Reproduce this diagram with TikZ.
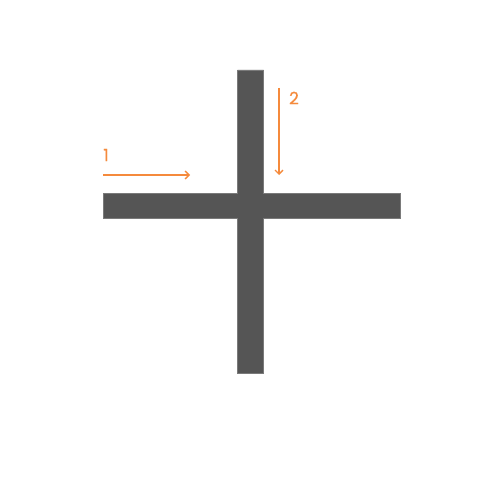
\documentclass[tikz,border=0pt]{standalone}
\usepackage{fontspec}
\setmainfont{Poppins}
\newfontfamily\tagfont[FakeBold=0.6]{Poppins}
\usetikzlibrary{arrows.meta}
\definecolor{bargray}{HTML}{555555}
\definecolor{edgegray}{HTML}{7A7A7A}
\definecolor{accent}{HTML}{F58A3C}
\tikzset{
  bar/.style={fill=bargray, draw=edgegray, line width=0.6pt},
  flow/.style={draw=accent, line width=1.6pt, -{Straight Barb[length=4pt,width=8pt,line width=1.4pt]}},
  tag/.style={text=accent, font=\tagfont\fontsize{17}{19}\selectfont, inner sep=0pt}
}
\begin{document}
\begin{tikzpicture}[x=1pt,y=-1pt]
\useasboundingbox (0,0) rectangle (500,500);
\fill[white] (0,0) rectangle (500,500);
% cross
\draw[bar] (237.5,70) -- (263.5,70) -- (263.5,193.5) -- (400,193.5) -- (400,218.5)
  -- (263.5,218.5) -- (263.5,373.5) -- (237.5,373.5) -- (237.5,218.5) -- (103,218.5)
  -- (103,193.5) -- (237.5,193.5) -- cycle;
% arrows
\coordinate (a1s) at (103,175);
\coordinate (a1e) at (190,175);
\coordinate (a2s) at (279,88);
\coordinate (a2e) at (279,175);
\draw[flow] (a1s) -- (a1e);
\draw[flow] (a2s) -- (a2e);
\node[tag] (l1) at (106,155) {1};
\node[tag] (l2) at (294,98) {2};
\end{tikzpicture}
\end{document}
